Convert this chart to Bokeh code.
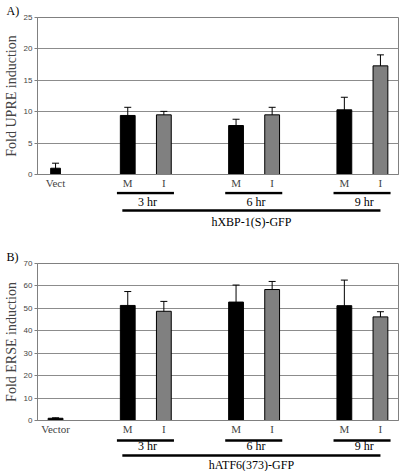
from bokeh.plotting import figure
from bokeh.models import Range1d, FixedTicker, ColumnDataSource, Whisker, Title, TeeHead
from bokeh.layouts import column
from bokeh.embed import file_html
from bokeh.resources import INLINE
from bokeh.core.properties import value

# ---------------- data ----------------
time_groups = ["3 hr", "6 hr", "9 hr"]
treatments = ["M", "I"]

a_control_label = "Vect"
a_control = 1.0
a_control_err = 0.8
a_M = [9.4, 7.8, 10.3]
a_M_err = [1.3, 1.0, 2.0]
a_I = [9.5, 9.5, 17.3]
a_I_err = [0.55, 1.2, 1.75]
a_construct = "hXBP-1(S)-GFP"
a_ylabel = "Fold UPRE induction"
a_yticks = [0, 5, 10, 15, 20, 25]

b_control_label = "Vector"
b_control = 1.0
b_control_err = 0.2
b_M = [51.3, 52.8, 51.2]
b_M_err = [6.2, 7.6, 11.4]
b_I = [48.7, 58.4, 46.2]
b_I_err = [4.4, 3.6, 2.3]
b_construct = "hATF6(373)-GFP"
b_ylabel = "Fold ERSE induction"
b_yticks = [0, 10, 20, 30, 40, 50, 60, 70]

# ---------------- style ----------------
W = 400
LEFT = 33
RIGHT = 2
GRAY = "#808080"
GRID = "#8c8c8c"
SERIF = "Liberation Serif"
SANS = "Liberation Sans"


def make_panel(letter, ctrl_label, ctrl, ctrl_err, m_vals, m_err, i_vals, i_err,
               construct, ylabel, yticks, top, main_h, ann_h, ctrl_w, rows):
    # slot positions: control at 0, then each time group occupies M, I, gap
    xs = [0]
    labels = [ctrl_label]
    tops = [ctrl]
    errs = [ctrl_err]
    colors = ["black"]
    widths = [ctrl_w]
    for g in range(len(time_groups)):
        for t, (vals, ev, col) in enumerate([(m_vals, m_err, "black"), (i_vals, i_err, GRAY)]):
            xs.append(2 + 3 * g + t)
            labels.append(treatments[t])
            tops.append(vals[g])
            errs.append(ev[g])
            colors.append(col)
            widths.append(0.41)
    src = ColumnDataSource(dict(
        x=xs, top=tops, color=colors, w=widths,
        upper=[t + e for t, e in zip(tops, errs)],
        lower=[t - e for t, e in zip(tops, errs)],
    ))
    xr = Range1d(-0.5, 9.5)
    p = figure(width=W, height=main_h, x_range=xr, y_range=Range1d(0, yticks[-1]),
               output_backend="svg", toolbar_location=None,
               min_border_left=LEFT, min_border_right=RIGHT, min_border_top=top,
               min_border_bottom=15)
    p.add_layout(Title(text=letter, align="left", offset=-LEFT + 2, standoff=0,
                       text_font=SERIF, text_font_size="12px",
                       text_font_style="normal", text_color="black"), "above")
    p.outline_line_color = GRAY
    p.xgrid.visible = False
    p.ygrid.grid_line_color = GRID
    p.ygrid.ticker = FixedTicker(ticks=yticks)
    ya = p.yaxis[0]
    ya.ticker = FixedTicker(ticks=yticks)
    ya.axis_label = ylabel
    ya.axis_label_text_font = SERIF
    ya.axis_label_text_font_size = "14px"
    ya.axis_label_text_font_style = "normal"
    ya.axis_label_standoff = 2
    ya.major_label_text_font = SANS
    ya.major_label_text_font_size = "8px"
    ya.major_label_standoff = 2
    ya.major_tick_out = 3
    ya.major_tick_in = 0
    ya.minor_tick_out = 0
    ya.minor_tick_in = 0
    ya.axis_line_color = GRAY
    ya.major_tick_line_color = GRAY
    xa = p.xaxis[0]
    xa.ticker = FixedTicker(ticks=xs)
    xa.major_label_overrides = {x: l for x, l in zip(xs, labels)}
    xa.major_tick_out = 0
    xa.major_tick_in = 0
    xa.minor_tick_out = 0
    xa.minor_tick_in = 0
    xa.axis_line_color = GRAY
    xa.major_label_text_font = SERIF
    xa.major_label_text_font_size = "11px"
    xa.major_label_standoff = 2

    p.vbar(x="x", top="top", width="w", source=src, fill_color="color",
           line_color="black", line_width=1)
    wk = Whisker(source=src, base="x", upper="upper", lower="lower",
                 line_color="black", line_width=1,
                 upper_head=TeeHead(size=7, line_color="black", line_width=1),
                 lower_head=TeeHead(size=7, line_color="black", line_width=1))
    p.add_layout(wk)

    # annotation strip below
    a = figure(width=W, height=ann_h, x_range=xr, y_range=Range1d(ann_h, 0),
               x_axis_type=None, y_axis_type=None, output_backend="svg",
               toolbar_location=None, min_border_left=LEFT, min_border_right=RIGHT,
               min_border_top=0, min_border_bottom=0)
    a.outline_line_color = None
    r_short, r_time, r_long, r_con = rows
    m_pos = [2 + 3 * g for g in range(len(time_groups))]
    i_pos = [3 + 3 * g for g in range(len(time_groups))]
    a.segment(x0=[m - 0.3 for m in m_pos], x1=[i + 0.28 for i in i_pos],
              y0=[r_short] * 3, y1=[r_short] * 3, line_color="black", line_width=2.5)
    a.text(x=[(m + i) / 2 + 0.05 for m, i in zip(m_pos, i_pos)], y=[r_time] * 3,
           text=time_groups, text_align="center", text_baseline="middle",
           text_font=value(SERIF), text_font_style="normal", text_font_size="12px",
           text_color="black")
    x_long0, x_long1 = m_pos[0] - 0.15, i_pos[-1]
    a.segment(x0=[x_long0], x1=[x_long1], y0=[r_long], y1=[r_long],
              line_color="black", line_width=2.5)
    a.text(x=[(x_long0 + x_long1) / 2], y=[r_con], text=[construct],
           text_align="center", text_baseline="middle", text_font=value(SERIF),
           text_font_style="normal", text_font_size="12px", text_color="black")
    return [p, a]


panel_a = make_panel("A)", a_control_label, a_control, a_control_err, a_M, a_M_err,
                     a_I, a_I_err, a_construct, a_ylabel, a_yticks,
                     top=17, main_h=191, ann_h=44, ctrl_w=0.27, rows=(1.5, 10, 19, 30))
panel_b = make_panel("B)", b_control_label, b_control, b_control_err, b_M, b_M_err,
                     b_I, b_I_err, b_construct, b_ylabel, b_yticks,
                     top=28, main_h=202, ann_h=34, ctrl_w=0.41, rows=(3, 8.5, 18, 27))

layout = column(*panel_a, *panel_b, spacing=0)
open("out.html", "w").write(file_html(layout, INLINE))
